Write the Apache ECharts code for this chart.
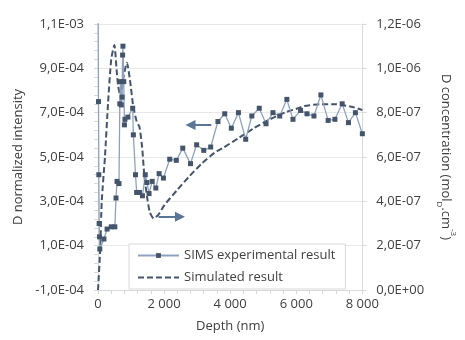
<!DOCTYPE html>
<html>
<head>
<meta charset="utf-8">
<script src="https://cdn.jsdelivr.net/npm/echarts@6/dist/echarts.min.js"></script>
<style>
  html, body { margin: 0; padding: 0; background: #fff; }
  #main { width: 465px; height: 340px; }
</style>
</head>
<body>
<div id="main"></div>
<script>
var dom = document.getElementById('main');
var myChart = echarts.init(dom);

// SIMS measurement (left axis)
var simsDepth = [0, 15, 25, 35, 45, 55, 180, 275, 400, 510, 545, 575, 635, 660, 680, 705, 730, 745, 755, 780,
    800, 815, 905, 1050, 1070, 1135, 1170, 1255, 1345, 1430, 1480, 1545, 1640, 1750, 1850, 1980, 2170, 2370,
    2565, 2800, 2985, 3200, 3410, 3630, 3835, 4035, 4250, 4470, 4655, 4880, 5085, 5295, 5500, 5715, 5900,
    6130, 6325, 6535, 6745, 6965, 7170, 7390, 7580, 7790, 8000];
var simsValue = [1.25e-3, 7.5e-4, 4.2e-4, 2.0e-4, 1.4e-4, 8.5e-5, 1.3e-4, 1.75e-4, 1.85e-4, 1.85e-4, 3.15e-4,
    3.9e-4, 3.8e-4, 7.4e-4, 8.4e-4, 7.35e-4, 7.7e-4, 9.6e-4, 1.0e-3, 8.4e-4,
    6.45e-4, 6.7e-4, 6.8e-4, 7.2e-4, 6.0e-4, 4.2e-4, 3.4e-4, 3.4e-4, 3.25e-4, 4.2e-4, 3.85e-4, 3.35e-4,
    3.9e-4, 3.6e-4, 4.25e-4, 4.05e-4, 4.9e-4, 4.85e-4,
    5.4e-4, 4.7e-4, 5.55e-4, 5.3e-4, 5.45e-4, 6.6e-4, 6.95e-4, 6.3e-4, 7.0e-4, 5.8e-4, 6.85e-4, 7.2e-4,
    6.5e-4, 7.0e-4, 6.85e-4, 7.6e-4, 6.7e-4,
    7.1e-4, 6.95e-4, 6.85e-4, 7.8e-4, 6.65e-4, 6.7e-4, 7.4e-4, 6.55e-4, 7.0e-4, 6.05e-4];

// simulation (right axis)
var simDepth = [0, 65, 115, 210, 305, 400, 495, 565, 610, 686, 770, 875, 970, 1065, 1170, 1255, 1335, 1400,
    1485, 1570, 1685, 1830, 2010, 2390, 2770, 3150, 3535, 3770, 4250, 4720, 5200, 5680, 6060, 6240, 6715,
    7190, 7665, 8000];
var simValue = [0, 1.8e-7, 4.05e-7, 6.0e-7, 8.45e-7, 1.04e-6, 1.105e-6, 9.9e-7, 9.2e-7, 8.7e-7, 9.6e-7,
    1.025e-6, 9.45e-7, 8.3e-7, 7.6e-7, 7.35e-7, 6.45e-7, 5.2e-7,
    4.2e-7, 3.5e-7, 3.23e-7, 3.4e-7, 3.83e-7, 4.5e-7, 5.14e-7, 5.72e-7, 6.2e-7, 6.4e-7, 6.85e-7, 7.3e-7,
    7.7e-7, 8.02e-7, 8.2e-7, 8.3e-7, 8.38e-7,
    8.38e-7, 8.27e-7, 8.12e-7];

// annotation arrows: [depth, value] start -> end
var arrowSims = [[3430, 6.44e-4], [2800, 6.44e-4]];
var arrowSim = [[1830, 3.31e-7], [2480, 3.31e-7]];

var seriesNames = ['SIMS experimental result', 'Simulated result'];

function pairs(xs, ys) {
    var out = [];
    for (var i = 0; i < xs.length; i++) out.push([xs[i], ys[i]]);
    return out;
}

function sci(v) {
    var s = Number(v).toExponential(1).split('e');
    var e = parseInt(s[1], 10);
    var a = Math.abs(e);
    return s[0].replace('.', ',') + 'E' + (e < 0 ? '-' : '+') + (a < 10 ? '0' : '') + a;
}

var font = 'Open Sans';
var txt = '#404040';
var axisGray = '#d9d9d9';

option = {
    animation: false,
    textStyle: { fontFamily: font },
    grid: { left: 98, right: 87, top: 24, bottom: 50 },
    legend: {
        orient: 'vertical',
        left: 129,
        top: 244,
        width: 246,
        padding: [5, 10, 5, 8],
        itemGap: 9,
        itemWidth: 41,
        itemHeight: 6,
        backgroundColor: '#fff',
        borderColor: axisGray,
        borderWidth: 1,
        borderRadius: 0,
        textStyle: { fontFamily: font, fontSize: 13, color: txt },
        data: [
            { name: seriesNames[0] },
            { name: seriesNames[1], itemStyle: { opacity: 0 } }
        ]
    },
    xAxis: {
        type: 'value',
        min: 0,
        max: 8000,
        interval: 2000,
        name: 'Depth (nm)',
        nameLocation: 'middle',
        nameGap: 30,
        nameTextStyle: { fontFamily: font, fontSize: 13, color: txt },
        axisLine: { show: true, onZero: false, lineStyle: { color: axisGray } },
        axisTick: { show: true, length: 4, lineStyle: { color: axisGray } },
        minorTick: { show: true, splitNumber: 5, length: 4, lineStyle: { color: axisGray } },
        splitLine: { show: false },
        axisLabel: {
            fontFamily: font, fontSize: 13, color: txt, margin: 8,
            formatter: function (v) { return String(v).replace(/\B(?=(\d{3})+(?!\d))/g, ' '); }
        }
    },
    yAxis: [{
        type: 'value',
        min: -1e-4,
        max: 1.1e-3,
        interval: 2e-4,
        name: 'D normalized intensity',
        nameLocation: 'middle',
        nameGap: 66,
        nameRotate: 90,
        nameTextStyle: { fontFamily: font, fontSize: 13, color: txt },
        axisLine: { show: true, onZero: false, lineStyle: { color: axisGray } },
        axisTick: { show: true, length: 4, lineStyle: { color: axisGray } },
        minorTick: { show: true, splitNumber: 5, length: 4, lineStyle: { color: axisGray } },
        splitLine: { show: true, lineStyle: { color: '#e8e8e8' } },
        axisLabel: { fontFamily: font, fontSize: 13, color: txt, margin: 14, formatter: sci }
    }, {
        type: 'value',
        position: 'right',
        min: 0,
        max: 1.2e-6,
        interval: 2e-7,
        name: 'D concentration (mol{sub|D}.cm{sup|-3})',
        nameLocation: 'middle',
        nameGap: 70,
        nameRotate: -90,
        nameTextStyle: {
            fontFamily: font, fontSize: 13, color: txt,
            rich: {
                sub: { fontFamily: font, fontSize: 8, color: txt, verticalAlign: 'bottom', lineHeight: 22 },
                sup: { fontFamily: font, fontSize: 8, color: txt, verticalAlign: 'top', lineHeight: 22 }
            }
        },
        axisLine: { show: true, onZero: false, lineStyle: { color: axisGray } },
        axisTick: { show: true, length: 4, lineStyle: { color: axisGray } },
        splitLine: { show: false },
        axisLabel: { fontFamily: font, fontSize: 13, color: txt, margin: 14, formatter: sci }
    }],
    series: [{
        name: seriesNames[0],
        type: 'line',
        yAxisIndex: 0,
        data: pairs(simsDepth, simsValue),
        symbol: 'rect',
        symbolSize: 5,
        showSymbol: true,
        lineStyle: { color: '#8ea2bd', width: 1.3 },
        itemStyle: { color: '#44546a' },
        z: 3,
        markLine: {
            silent: true,
            symbol: ['none', 'triangle'],
            symbolSize: 10,
            label: { show: false },
            lineStyle: { color: '#5b7596', width: 2, type: 'solid' },
            itemStyle: { color: '#5b7596' },
            data: [[{ coord: arrowSims[0] }, { coord: arrowSims[1] }]]
        }
    }, {
        name: seriesNames[1],
        type: 'line',
        yAxisIndex: 1,
        data: pairs(simDepth, simValue),
        showSymbol: false,
        symbol: 'none',
        smooth: 0.2,
        lineStyle: { color: '#44546a', width: 2, type: [6, 3] },
        itemStyle: { color: '#44546a' },
        z: 2,
        markLine: {
            silent: true,
            symbol: ['none', 'triangle'],
            symbolSize: 10,
            label: { show: false },
            lineStyle: { color: '#5b7596', width: 2, type: 'solid' },
            itemStyle: { color: '#5b7596' },
            data: [[{ coord: arrowSim[0] }, { coord: arrowSim[1] }]]
        }
    }]
};

if (option && typeof option === 'object') {
    myChart.setOption(option, true);
}
</script>
</body>
</html>
